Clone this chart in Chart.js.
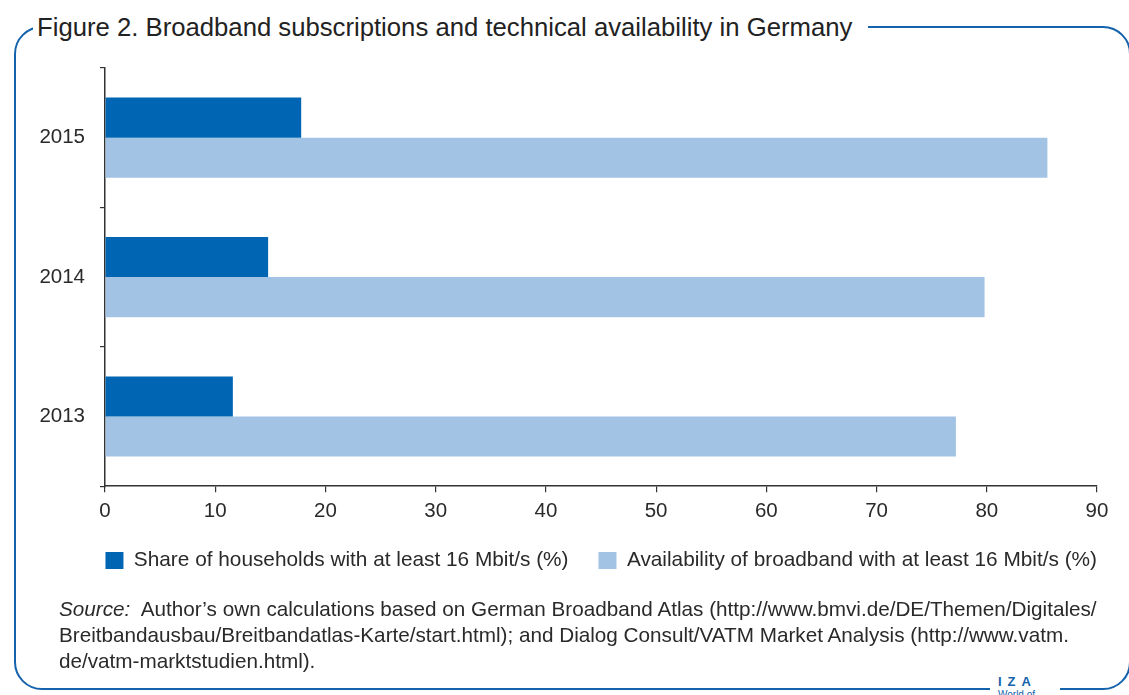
<!DOCTYPE html>
<html>
<head>
<meta charset="utf-8">
<script src="https://cdn.jsdelivr.net/npm/chart.js@4.4.1/dist/chart.umd.min.js"></script>
<style>
  html, body { margin:0; padding:0; background:#fff; }
  body { width:1129px; height:695px; position:relative; overflow:hidden; font-family:"Liberation Sans", Arial, sans-serif; color:#2a2a2a; }
  #frame { position:absolute; left:14px; top:26px; width:1113px; height:660px; border:2.5px solid #1463ac; border-radius:28px; box-sizing:content-box; }
  #title { position:absolute; left:33px; top:12px; background:#fff; padding:0 16px 0 4px; font-size:25.7px; line-height:30px; color:#222; white-space:nowrap; }
  #chartwrap { position:absolute; left:0; top:0; width:1129px; height:695px; }
  #source { position:absolute; left:59px; top:596px; width:1045px; font-size:20.7px; line-height:26px; color:#2a2a2a; white-space:nowrap; }
  #iza { position:absolute; left:990px; top:674px; width:70px; height:30px; background:#fff; color:#1463ac; }
  #iza .a { font-weight:bold; font-size:13px; letter-spacing:6px; padding-left:8px; line-height:15px; }
  #iza .b { font-size:10px; padding-left:8px; line-height:12px; }
</style>
</head>
<body>
<div id="frame"></div>
<div id="chartwrap"><canvas id="c" width="1129" height="695"></canvas></div>
<div id="title">Figure 2. Broadband subscriptions and technical availability in Germany</div>
<div id="source">
  <div><i>Source:</i>&nbsp; Author’s own calculations based on German Broadband Atlas (http://www.bmvi.de/DE/Themen/Digitales/</div>
  <div>Breitbandausbau/Breitbandatlas-Karte/start.html); and Dialog Consult/VATM Market Analysis (http://www.vatm.</div>
  <div>de/vatm-marktstudien.html).</div>
</div>
<div id="iza"><div class="a">IZA</div><div class="b">World of Labor</div></div>
<script>
const years = ['2015', '2014', '2013'];
const shareHouseholds = [17.8, 14.8, 11.6];
const availability = [85.5, 79.8, 77.2];
const seriesLabels = ['Share of households with at least 16 Mbit/s (%)', 'Availability of broadband with at least 16 Mbit/s (%)'];
const xTicks = [0, 10, 20, 30, 40, 50, 60, 70, 80, 90];

const FONT = "'Liberation Sans', Arial, sans-serif";
const TXT = '#2a2a2a';
const AX = '#333333';

const shiftLegend = {
  id: 'shiftLegend',
  afterLayout(chart) {
    const lg = chart.legend;
    if (lg) { lg.left += 30; lg.right += 30; }
  }
};

new Chart(document.getElementById('c'), {
  type: 'bar',
  data: {
    labels: years,
    datasets: [
      { label: seriesLabels[0], data: shareHouseholds, backgroundColor: '#0066b3', borderWidth: 0,
        barPercentage: 1.0, categoryPercentage: 0.575 },
      { label: seriesLabels[1], data: availability, backgroundColor: '#a3c3e5', borderWidth: 0,
        barPercentage: 1.0, categoryPercentage: 0.575 }
    ]
  },
  plugins: [shiftLegend],
  options: {
    indexAxis: 'y',
    responsive: false,
    animation: false,
    layout: { padding: { left: 0, right: 32, top: 68, bottom: 114 } },
    plugins: {
      legend: {
        position: 'bottom',
        align: 'end',
        labels: { boxWidth: 18, boxHeight: 17, padding: 30, color: TXT, font: { family: FONT, size: 20.8 } }
      },
      tooltip: { enabled: false }
    },
    scales: {
      x: {
        min: 0, max: 90,
        afterBuildTicks: s => { s.ticks = xTicks.map(v => ({ value: v })); },
        afterFit: s => { s.height = 34; },
        border: { display: true, color: AX, width: 1.5 },
        grid: { drawOnChartArea: false, drawTicks: true, tickLength: 6, color: AX, lineWidth: 1.2 },
        ticks: { color: TXT, padding: 7, font: { family: FONT, size: 20.5 } }
      },
      y: {
        afterFit: s => { s.width = 105; },
        border: { display: true, color: AX, width: 1.5 },
        grid: { offset: true, drawOnChartArea: false, drawTicks: true, tickLength: 5, color: AX, lineWidth: 1.2 },
        ticks: { color: TXT, padding: 15, font: { family: FONT, size: 20.5 } }
      }
    }
  }
});
</script>
</body>
</html>
